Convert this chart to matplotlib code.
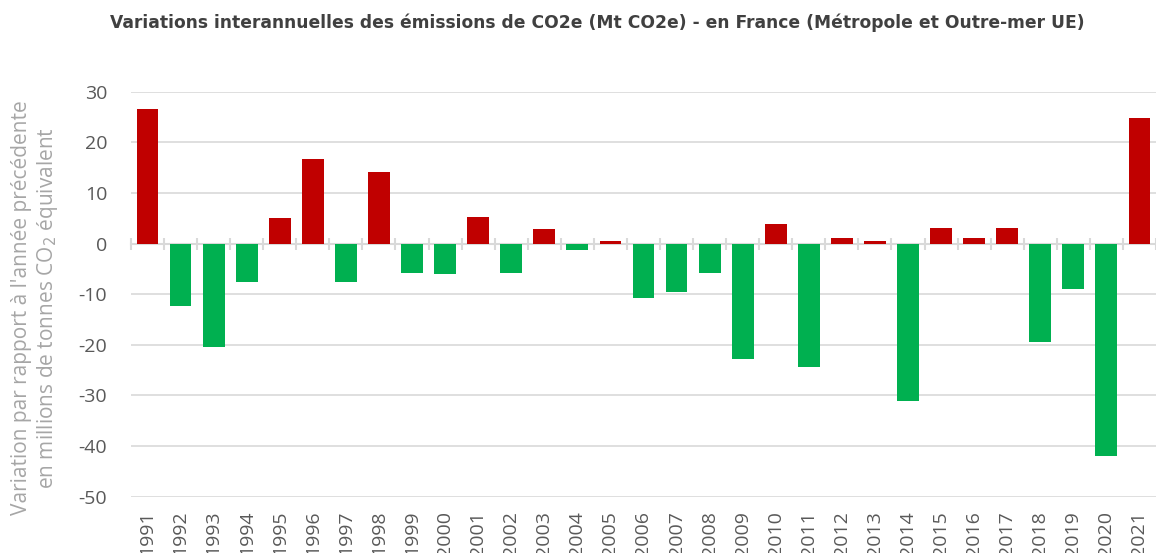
import numpy as np
import matplotlib
matplotlib.use("Agg")
import matplotlib.pyplot as plt

# Interannual variations of CO2e emissions (Mt CO2e), France
years = [str(y) for y in range(1991, 2022)]
variations = [26.6, -12.4, -20.5, -7.6, 5.1, 16.8, -7.6, 14.2, -5.8, -6.1,
              5.2, -5.8, 2.8, -1.2, 0.6, -10.8, -9.6, -5.9, -22.8, 3.8,
              -24.4, 1.2, 0.6, -31.2, 3.0, 1.2, 3.0, -19.4, -9.0, -41.9, 24.8]

title = "Variations interannuelles des émissions de CO2e (Mt CO2e) - en France (Métropole et Outre-mer UE)"
ylabel = "Variation par rapport à l'année précédente\nen millions de tonnes CO$_2$ équivalent"

RED = "#C00000"
GREEN = "#00B050"
GRID = "#D9D9D9"

plt.rcParams['font.family'] = ['Open Sans', 'DejaVu Sans']
plt.rcParams['axes.unicode_minus'] = False

fig = plt.figure(figsize=(11.56, 5.53), dpi=100)
ax = fig.add_axes([0.1133, 0.102, 0.8867, 0.732])

x = np.arange(len(years))
colors = [RED if v > 0 else GREEN for v in variations]
ax.bar(x, variations, width=0.66, color=colors, zorder=3)

ax.set_xlim(-0.5, len(years) - 0.5)
ax.set_ylim(-50, 30)
ax.set_yticks(range(-50, 31, 10))
ax.yaxis.grid(True, color=GRID, linewidth=1.2, zorder=0)
ax.tick_params(axis='y', length=0, labelsize=14, labelcolor="#595959", pad=17)

# x axis at zero, tick marks between categories, labels at the bottom
for s in ['top', 'right', 'left']:
    ax.spines[s].set_visible(False)
ax.spines['bottom'].set_position(('data', 0))
ax.spines['bottom'].set_color(GRID)
ax.spines['bottom'].set_linewidth(1.5)
ax.set_xticks(np.arange(-0.5, len(years), 1.0))
ax.set_xticklabels([])
ax.tick_params(axis='x', direction='inout', length=8, width=1.5, color=GRID)

for xi, lab in zip(x, years):
    ax.text(xi, -52.8, lab, rotation=90, ha='center', va='top', fontsize=14,
            color="#595959", clip_on=False)

fig.text(0.031, 0.443, ylabel, rotation=90, ha='center', va='center',
         fontsize=15, color="#A6A6A6", linespacing=1.15)

fig.text(0.517, 0.958, title, ha='center', va='center', fontsize=12.35,
         fontweight='bold', color="#404040", family='DejaVu Sans')

fig.savefig("out.png", dpi=100)
